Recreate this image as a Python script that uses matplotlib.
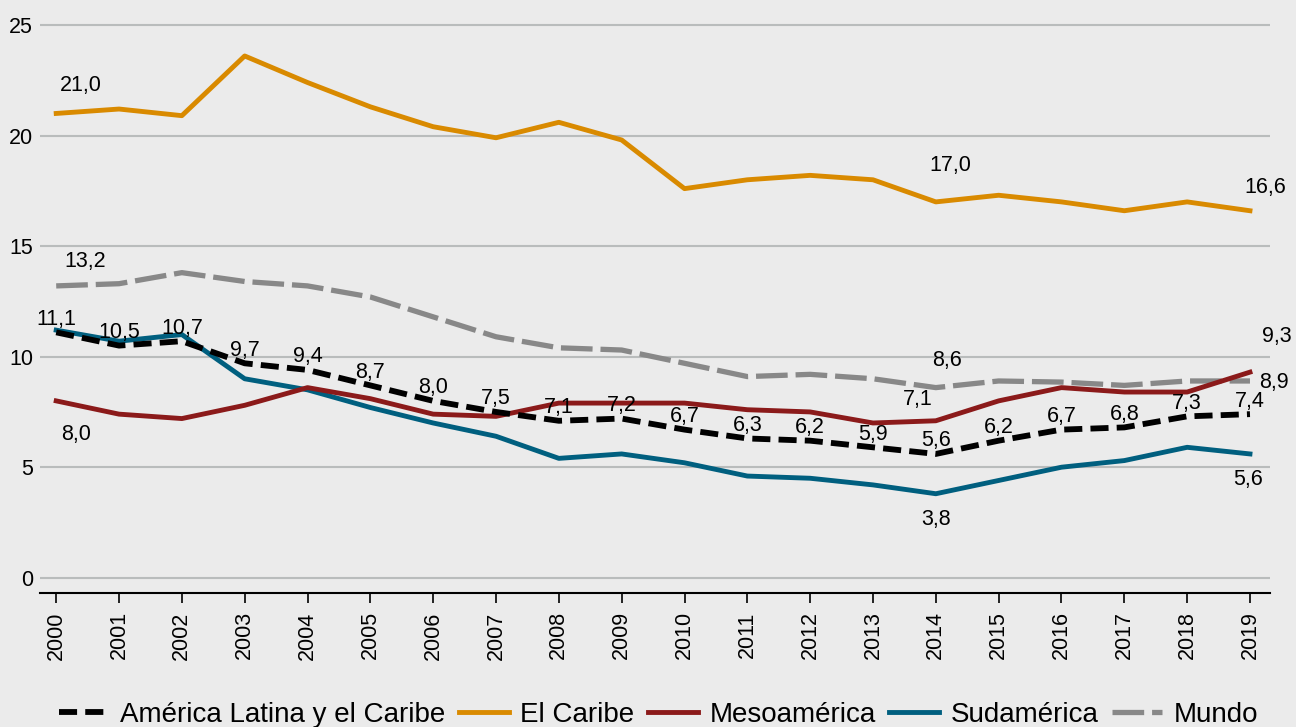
import matplotlib
matplotlib.use('Agg')
import matplotlib.pyplot as plt

plt.rcParams['font.family'] = ['Liberation Sans', 'DejaVu Sans']

anios = list(range(2000, 2020))

alc = [11.1, 10.5, 10.7, 9.7, 9.4, 8.7, 8.0, 7.5, 7.1, 7.2,
       6.7, 6.3, 6.2, 5.9, 5.6, 6.2, 6.7, 6.8, 7.3, 7.4]
caribe = [21.0, 21.2, 20.9, 23.6, 22.4, 21.3, 20.4, 19.9, 20.6, 19.8,
          17.6, 18.0, 18.2, 18.0, 17.0, 17.3, 17.0, 16.6, 17.0, 16.6]
meso = [8.0, 7.4, 7.2, 7.8, 8.6, 8.1, 7.4, 7.3, 7.9, 7.9,
        7.9, 7.6, 7.5, 7.0, 7.1, 8.0, 8.6, 8.4, 8.4, 9.3]
sud = [11.2, 10.7, 11.0, 9.0, 8.5, 7.7, 7.0, 6.4, 5.4, 5.6,
       5.2, 4.6, 4.5, 4.2, 3.8, 4.4, 5.0, 5.3, 5.9, 5.6]
mundo = [13.2, 13.3, 13.8, 13.4, 13.2, 12.7, 11.8, 10.9, 10.4, 10.3,
         9.7, 9.1, 9.2, 9.0, 8.6, 8.9, 8.85, 8.7, 8.9, 8.9]

nombres = ['América Latina y el Caribe', 'El Caribe', 'Mesoamérica', 'Sudamérica', 'Mundo']

fondo = '#ebebeb'
fig = plt.figure(figsize=(12.96, 7.27), dpi=100, facecolor=fondo)
ax = fig.add_axes([0.031, 0.184, 0.949, 0.812], facecolor=fondo)

l_mundo, = ax.plot(anios, mundo, color='#888888', lw=3.8, dashes=(6.0, 1.5), zorder=3)
l_sud, = ax.plot(anios, sud, color='#005f7f', lw=3.5, zorder=4)
l_meso, = ax.plot(anios, meso, color='#8b1a1a', lw=3.5, zorder=5)
l_car, = ax.plot(anios, caribe, color='#d98a00', lw=3.5, zorder=6)
l_alc, = ax.plot(anios, alc, color='black', lw=4.2, dashes=(3.1, 1.4), zorder=7)


def fmt(v):
    return ('%.1f' % v).replace('.', ',')


def etiqueta(serie, i, dx, dy):
    # dx, dy en pixeles
    ax.annotate(fmt(serie[i]), (anios[i], serie[i]), xytext=(dx * 0.72, dy * 0.72),
                textcoords='offset points', ha='center', va='center',
                fontsize=15.5, zorder=10)


for i in range(len(anios)):
    etiqueta(alc, i, 0, 13)

etiqueta(caribe, 0, 25, 28)
etiqueta(caribe, 14, 14, 36)
etiqueta(caribe, 19, 15, 23)
etiqueta(mundo, 0, 29, 24)
etiqueta(mundo, 14, 11, 27)
etiqueta(mundo, 19, 24, -2)
etiqueta(meso, 0, 20, -34)
etiqueta(meso, 14, -18, 21)
etiqueta(meso, 19, 27, 36)
etiqueta(sud, 14, 0, -26)
etiqueta(sud, 19, -2, -26)

ax.set_xlim(1999.745, 2019.32)
ax.set_ylim(-0.7, 26)
ax.set_yticks([0, 5, 10, 15, 20, 25])
ax.set_xticks(anios)
ax.set_xticklabels([str(a) for a in anios], rotation=90)
ax.grid(axis='y', color='#b9bcbc', lw=1.5)
ax.set_axisbelow(True)
for s in ['left', 'right', 'top']:
    ax.spines[s].set_visible(False)
ax.spines['bottom'].set_linewidth(1.5)
ax.tick_params(axis='y', length=0, labelsize=15.5, pad=5)
ax.tick_params(axis='x', length=7, width=1.2, labelsize=15.5, pad=6)

fig.legend([l_alc, l_car, l_meso, l_sud, l_mundo], nombres, loc='center',
           bbox_to_anchor=(0.508, 0.017), ncol=5, frameon=False, fontsize=20,
           handlelength=1.8, handletextpad=0.4, columnspacing=0.5, borderaxespad=0)

fig.savefig('out.png', dpi=100, facecolor=fondo)
